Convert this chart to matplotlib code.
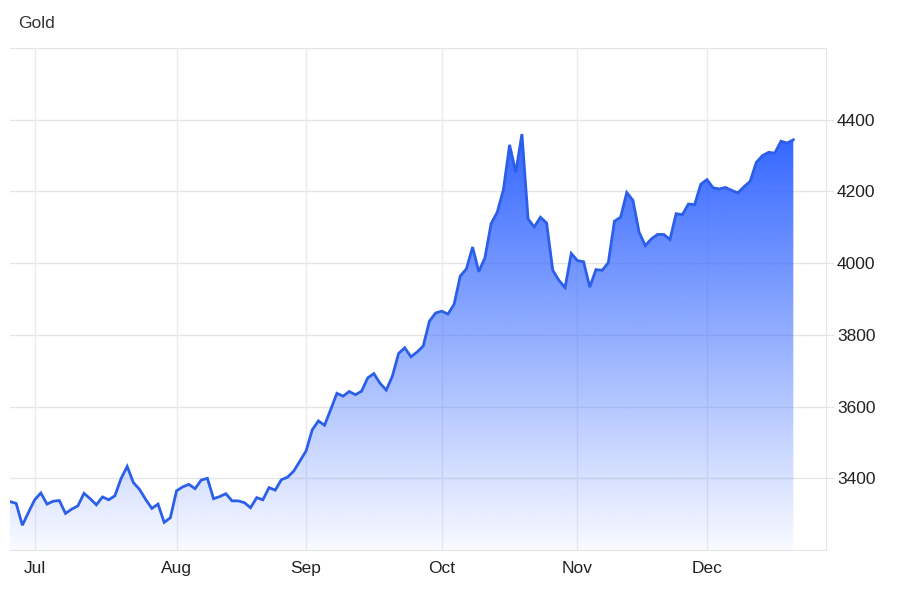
import numpy as np
import matplotlib.pyplot as plt
from matplotlib.colors import to_rgb

# daily gold closes, late June to mid December (trading days only)
prices = [
    3335, 3330, 3269, 3305, 3340, 3359, 3328, 3336, 3338, 3302,
    3314, 3323, 3358, 3343, 3326, 3348, 3340, 3351, 3399, 3433,
    3388, 3369, 3341, 3316, 3328, 3277, 3290, 3365, 3376, 3383,
    3371, 3395, 3400, 3343, 3349, 3357, 3337, 3337, 3332, 3318,
    3346, 3340, 3374, 3367, 3396, 3403, 3420, 3448, 3476, 3535,
    3560, 3548, 3592, 3637, 3629, 3642, 3633, 3643, 3680, 3692,
    3665, 3646, 3685, 3748, 3764, 3739, 3752, 3769, 3838, 3861,
    3866, 3858, 3885, 3964, 3984, 4045, 3976, 4015, 4110, 4142,
    4205, 4330, 4253, 4360, 4123, 4101, 4128, 4112, 3980, 3952,
    3932, 4027, 4007, 4004, 3933, 3982, 3980, 4001, 4117, 4128,
    4197, 4175, 4086, 4049, 4068, 4080, 4080, 4066, 4138, 4135,
    4165, 4163, 4220, 4233, 4210, 4207, 4211, 4203, 4196, 4213,
    4228, 4281, 4300, 4309, 4307, 4340, 4335, 4344,
]

month_labels = ['Jul', 'Aug', 'Sep', 'Oct', 'Nov', 'Dec']
month_first_day = [4, 27, 48, 70, 92, 113]
price_ticks = [3400, 3600, 3800, 4000, 4200, 4400]

plt.rcParams['font.family'] = ['Liberation Sans', 'DejaVu Sans']

grid_col = '#e6e6e6'
line_col = '#2c5fe9'
fill_col = '#3366ff'

fig = plt.figure(figsize=(9, 6), dpi=100)
ax = fig.add_axes([10 / 900, 50 / 600, 816 / 900, 502 / 600])

x = np.arange(len(prices))
y = np.array(prices)
y_min, y_max = 3200, 4600

# gradient fill under the line
rgb = to_rgb(fill_col)
grad = np.zeros((256, 1, 4))
grad[:, 0, :3] = rgb
grad[:, 0, 3] = np.linspace(0.03, 1.0, 256)
poly = ax.fill_between(x, y, y_min, color='none', lw=0)
img = ax.imshow(grad, aspect='auto', origin='lower',
                extent=[x[0], x[-1], y_min, y.max()], zorder=2)
img.set_clip_path(poly.get_paths()[0], transform=ax.transData)
ax.set_xlim(0, 132.3)
ax.set_ylim(y_min, y_max)

ax.plot(x, y, color=line_col, lw=2, zorder=3, solid_joinstyle='miter')

# grid
for v in price_ticks + [y_max]:
    ax.axhline(v, color=grid_col, lw=1, zorder=1)
for d in month_first_day:
    ax.axvline(d, color='#ececf0', lw=1, zorder=1)

for s in ['top', 'left']:
    ax.spines[s].set_visible(False)
ax.spines['bottom'].set_color(grid_col)
ax.spines['right'].set_color(grid_col)

ax.yaxis.tick_right()
ax.set_yticks(price_ticks)
ax.set_yticklabels([str(v) for v in price_ticks])
ax.tick_params(axis='y', length=6, color=grid_col, labelsize=12.5,
               labelcolor='#222222', pad=2)

ax.set_xticks(month_first_day)
ax.set_xticklabels(month_labels)
ax.tick_params(axis='x', length=0, labelsize=12.5, labelcolor='#222222', pad=8)

fig.text(18 / 900, 1 - 23 / 600, 'Gold', fontsize=12.5, color='#333333',
         va='center', ha='left')

fig.savefig('out.png', dpi=100)
